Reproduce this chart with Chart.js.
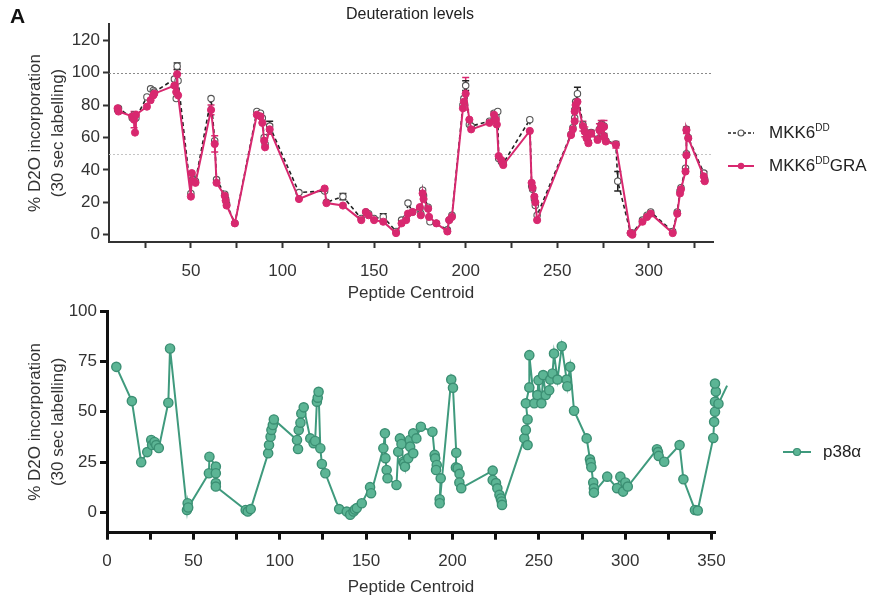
<!DOCTYPE html>
<html lang="en">
<head>
<meta charset="UTF-8">
<title>Deuteration levels</title>
<style>
  body { margin: 0; background: #fff; font-family: "Liberation Sans", Arial, sans-serif; color: #222; }
  #wrap { position: relative; width: 883px; height: 603px; overflow: hidden; background: #fff; }
  canvas { position: absolute; left: 0; }
  #topChart { top: 0; }
  #botChart { top: 295px; }
  .txt { position: absolute; white-space: nowrap; line-height: 1; }
  .panel { left: 10px; top: 5px; font-size: 21px; font-weight: bold; color: #111; }
  .title { left: 0; width: 820px; text-align: center; top: 6px; font-size: 16px; color: #222; }
  .leg { font-size: 17px; color: #222; display: flex; align-items: center; }
  .leg svg { margin-right: 15px; }
  .leg sup { font-size: 10px; vertical-align: 7px; line-height: 0; }
</style>
</head>
<body>
<div id="wrap">
  <canvas id="topChart" width="883" height="305"></canvas>
  <canvas id="botChart" width="883" height="308"></canvas>
  <div class="txt panel">A</div>
  <div class="txt title">Deuteration levels</div>
  <div class="txt leg" style="left:728px; top:124px;">
    <svg width="26" height="12"><line x1="0" y1="6" x2="26" y2="6" stroke="#222" stroke-width="1.5" stroke-dasharray="3,2"/><circle cx="13" cy="6" r="3" fill="#fff" stroke="#555" stroke-width="1.2"/></svg>
    <span>MKK6<sup>DD</sup></span>
  </div>
  <div class="txt leg" style="left:728px; top:157px;">
    <svg width="26" height="12"><line x1="0" y1="6" x2="26" y2="6" stroke="#d8286f" stroke-width="2"/><circle cx="13" cy="6" r="3.2" fill="#d8286f"/></svg>
    <span>MKK6<sup>DD</sup>GRA</span>
  </div>
  <div class="txt leg" style="left:783px; top:443px;">
    <svg width="28" height="12" style="margin-right:12px"><line x1="0" y1="6" x2="28" y2="6" stroke="#3f9a7d" stroke-width="2"/><circle cx="14" cy="6" r="3.5" fill="#5cb595" stroke="#3b8f73" stroke-width="1.2"/></svg>
    <span>p38α</span>
  </div>
</div>

<script src="https://cdn.jsdelivr.net/npm/chart.js"></script>
<script>
// [peptide centroid, % D2O, optional error]
const mkkDD = [
  [10,77],[10.5,78],[18,72],[19,74],[20,72],[26,85],[28,90],[29.5,89],[30,88],[41,96],
  [42,84],[42.5,104,2],[43,95],[50,25.5],[50.5,36],[51,34],[52.5,33],[61,84],[63,58],[64,34],
  [68.5,25],[69,22],[69.5,19],[74,7],[86,76],[88,75],[89,72],[90,60],[90.5,56],[93,67,3],
  [109,26],[123,27],[124,20],[133,23.5,2],[143,10],[145.5,14],[147,13],[150,10],[155,11,2],[162,2],
  [165,9],[167.5,10],[168.5,19.5],[171,14],[175,16],[175.5,13],[176.5,27.5],[177,24],[179.5,17],[180.5,8],
  [184,7],[190,3],[191,9],[192.5,12],[198.5,80],[199,84],[200,92,3],[202,68],[203,67],[213,70],
  [215.5,75],[216.5,73],[217.5,76],[218,47],[219.5,45],[220.5,44],[235,71],[236,30],[236.5,28],[237.5,22],
  [238,18],[239,12],[257.5,62],[258.5,66],[259.5,72],[259.5,77],[260,82],[261,87,4],[264,68],[265,64],
  [266,60],[267,57],[268.5,63],[272,59],[273,65],[274,68],[275.5,67],[275.5,61],[276.5,58],[282,56],
  [283,33,6],[290,1],[291,1],[296.5,9],[299,12],[301,14],[313,2],[315.5,14],[317,27],[317.5,29],
  [320,41],[320.5,50],[320.5,65],[321.5,60],[330,38],[330.5,34]
];
const mkkGRA = [
  [10,78],[10.5,76],[18,73],[19,71,5],[19.5,63],[20,74],[26,79],[28,83],[29.5,86],[30,87],
  [41,92],[42,88],[42.5,99,3],[43,86],[50,23.5],[50.5,38],[51,33],[52.5,32],[61,77,3],[63,56,5],
  [64,32],[68.5,24],[69,21],[69.5,18],[74,7],[86,74],[88,73],[89,69],[90,58],[90.5,54],
  [93,65,3],[109,22],[123,28.5],[124,19.5],[133,18],[143,9],[145.5,14],[147,12],[150,9],[155,8],
  [162,1],[165,7],[167.5,9],[168.5,13],[171,14],[175,17],[175.5,12],[176.5,25.5],[177,22],[179.5,16],
  [180,11],[184,7],[190,2],[191,9],[192.5,11],[198.5,78],[199,82],[200,87,10],[202,71],[203,65],
  [213,69],[215.5,74,2],[216.5,71],[217,68],[218,48.5],[219.5,46],[220.5,43],[235,64],[236,32],[236.5,29],
  [237.5,23.5],[238,20],[239,9],[257.5,61.5],[258.5,65],[259.5,70],[259.5,76],[260,80],[261,82],[264,67,3],
  [265,63.5,3],[266,59.5],[267,56.5],[268.5,62.5,2],[272,58.5],[273,64.5,4],[274,67.5,3],[275.5,66.5,4],[275.5,60.5],[276.5,57.5],
  [282,55.5,2],[290,1],[291,0],[296.5,8],[299,11],[301,13],[313,1],[315.5,13],[317,25.5],[317.5,28],
  [320,39],[320.5,49],[320.5,64.5,2],[321.5,59.5],[330,36,3],[330.5,33]
];
const p38a = [
  [5.4,72.3],[14.4,55.3],[19.8,25],[23.3,30],[25.6,36],[26.1,33.5],[27.5,35],[28.5,33.5],[30,32],[35.5,54.5],
  [36.5,81.4],[46.3,1.3],[46.7,4.6],[47,2.5],[59,19.5],[59.3,27.7],[63,22.8],[63,19.5],[63,14.6],[63,12.9],
  [80.3,1.3],[81.5,0.5],[83.2,1.7],[93.3,29.4],[93.8,33.5],[94.7,37.6],[95.2,41],[96,43.4],[96.6,46.2],[110,36],
  [110.6,31.5],[111,41],[112,44.6],[112.5,49.2],[113.9,52.2],[117.7,36.8],[119.6,34.4],[120.5,35.5],[121.5,55],[122,57],
  [122.5,59.9],[123.5,31.9],[124.4,24.1],[126.4,19.5],[134.4,1.7],[138.8,0.5],[140.8,-1.1],[142.7,0.5],[143.5,1.5],[144.6,2.2],
  [147.5,4.6],[152.3,12.6],[152.9,9.6],[160,31.9],[160.9,39.3],[161.2,27],[161.9,21.1],[162.4,17],[167.6,13.7],[168.6,30.2],
  [169.6,36.8],[170.5,34],[171.5,25.2],[172,24.4],[172.5,22.8],[174.4,26.9],[175.3,36],[175.5,32.7],[177.3,29.4],[177.3,39.3],
  [179.1,36.8],[181.7,42.6],[188.4,40.1],[189.7,28.6],[190,26.9],[190.9,23.6],[190.5,21.1],[193.2,17],[192.6,6.6],[192.6,4.6],
  [199.3,66],[200.3,61.9],[202.2,29.7],[202,22.4],[203,22],[204.1,19.2],[204,14.9],[205.1,12.1],[223.3,20.8],[223.3,16.2],
  [225.2,14.6],[226,12],[227.2,8.8],[228,7],[228.5,5.5],[228.7,3.8],[241.6,36.8],[242.5,41],[243.5,33.5],[243.5,46.2],
  [242.5,54.2],[244.5,62.1],[244.5,78.1],[247.4,54.2],[249.2,58.3],[249.8,65.7],[251.5,54.2],[252.5,68.2],[254,58.3],[256,60.7],
  [256.6,66],[257.9,69],[258.8,78.9],[260.8,66],[263.3,82.5],[266.1,66],[266.5,62.7],[268.1,72.3],[270.4,50.5],[277.7,36.8],
  [279.6,26.4],[280,24.8],[280.4,22.5],[281.5,14.9],[281.9,12],[281.9,9.9],[289.6,17.8],[295.3,12.1],[297.2,17.8],[298.8,10.4],
  [300.1,14.9],[301.5,12.9],[318.4,31.4],[319,30],[319.4,28.1],[322.6,25.2],[331.5,33.5],[333.7,16.5],[340.4,1.3],[342,1],
  [351,37],[351.5,45],[352,50],[352,55],[352.5,60],[352,64],[354,54],[359,63]
];

const topYTicks = [0, 20, 40, 60, 80, 100, 120];
const topXTicks = [25, 50, 75, 100, 125, 150, 175, 200, 225, 250, 275, 300, 325];
const botYTicks = [0, 25, 50, 75, 100];
const botXTicks = [0, 25, 50, 75, 100, 125, 150, 175, 200, 225, 250, 275, 300, 325, 350];
const refLines = [100, 50];

const FONT = '"Liberation Sans", Arial, sans-serif';
const yTitle = ['% D2O incorporation', '(30 sec labelling)'];
const toPts = a => a.map(p => ({ x: p[0], y: p[1], e: p[2] || 0 }));

const refLinePlugin = {
  id: 'refLines',
  beforeDatasetsDraw(chart, args, opts) {
    if (!opts.values) return;
    const { ctx, chartArea: a, scales: { y } } = chart;
    ctx.save();
    ctx.lineWidth = 1;
    ctx.setLineDash([2, 2]);
    opts.values.forEach((v, i) => {
      const py = Math.round(y.getPixelForValue(v)) + 0.5;
      ctx.strokeStyle = opts.colors[i];
      ctx.beginPath();
      ctx.moveTo(a.left, py);
      ctx.lineTo(a.right, py);
      ctx.stroke();
    });
    ctx.restore();
  }
};

const errPlugin = {
  id: 'errBars',
  beforeDatasetsDraw(chart) {
    const { ctx, scales: { y } } = chart;
    ctx.save();
    chart.data.datasets.forEach((ds, di) => {
      const meta = chart.getDatasetMeta(di);
      ctx.strokeStyle = ds.borderColor;
      ctx.lineWidth = 1.5;
      ds.data.forEach((d, i) => {
        if (!d.e) return;
        const px = meta.data[i].x;
        const t = y.getPixelForValue(d.y + d.e), b = y.getPixelForValue(d.y - d.e);
        ctx.beginPath();
        ctx.moveTo(px, t); ctx.lineTo(px, b);
        ctx.moveTo(px - 3.5, t); ctx.lineTo(px + 3.5, t);
        ctx.moveTo(px - 3.5, b); ctx.lineTo(px + 3.5, b);
        ctx.stroke();
      });
    });
    ctx.restore();
  }
};

function axis(opts) {
  return {
    type: 'linear',
    min: opts.min,
    max: opts.max,
    afterBuildTicks: s => { s.ticks = opts.ticks.map(v => ({ value: v })); },
    afterFit: s => { if (opts.width) s.width = opts.width; if (opts.height) s.height = opts.height; },
    border: { display: true, color: opts.color, width: opts.bw },
    grid: { drawOnChartArea: false, drawTicks: true, tickLength: opts.tl, tickColor: opts.color, tickWidth: opts.bw },
    ticks: {
      autoSkip: false, maxRotation: 0, color: '#333', padding: opts.pad,
      font: { size: 17, family: FONT },
      callback: opts.cb || (v => String(v))
    },
    title: {
      display: true, text: opts.title, color: '#333',
      font: { size: 17, family: FONT, lineHeight: 1.35 },
      padding: opts.tpad
    }
  };
}

const every50 = v => (v % 50 === 0 ? String(v) : '');

new Chart(document.getElementById('topChart'), {
  type: 'line',
  data: {
    datasets: [
      {
        label: 'MKK6DDGRA', data: toPts(mkkGRA),
        borderColor: '#d8286f', backgroundColor: '#d8286f',
        borderWidth: 2, pointRadius: 3.6, pointBorderWidth: 1,
        pointBackgroundColor: '#d8286f', pointBorderColor: '#d8286f', clip: false
      },
      {
        label: 'MKK6DD', data: toPts(mkkDD),
        borderColor: '#222', backgroundColor: '#fff',
        borderWidth: 1.6, borderDash: [4, 3], pointRadius: 3.2, pointBorderWidth: 1.1,
        pointBackgroundColor: '#fff', pointBorderColor: '#555', clip: false
      }
    ]
  },
  options: {
    responsive: false, animation: false, devicePixelRatio: 1,
    layout: { padding: { left: 23.5, right: 170, top: 24, bottom: 0 } },
    plugins: {
      legend: { display: false }, tooltip: { enabled: false },
      refLines: { values: refLines, colors: ['#8a8a8a', '#c4c4c4'] }
    },
    scales: {
      x: axis({ min: 5.3, max: 335, ticks: topXTicks, height: 63, color: '#333', bw: 2, tl: 6, pad: 13,
                cb: every50, title: 'Peptide Centroid', tpad: { top: 0, bottom: 0.5 } }),
      y: axis({ min: -4.5, max: 130, ticks: topYTicks, width: 85.5, color: '#333', bw: 2, tl: 6, pad: 3,
                title: yTitle, tpad: { top: 0, bottom: 0 } })
    }
  },
  plugins: [refLinePlugin, errPlugin]
});

new Chart(document.getElementById('botChart'), {
  type: 'line',
  data: {
    datasets: [{
      label: 'p38α', data: toPts(p38a),
      borderColor: '#3f9a7d', backgroundColor: '#5cb595',
      borderWidth: 2, pointRadius: 4.6, pointBorderWidth: 1.4,
      pointBackgroundColor: '#5cb595', pointBorderColor: '#3b8f73', clip: false
    }]
  },
  options: {
    responsive: false, animation: false, devicePixelRatio: 1,
    layout: { padding: { left: 23.5, right: 168, top: 16, bottom: 0 } },
    plugins: { legend: { display: false }, tooltip: { enabled: false } },
    scales: {
      x: axis({ min: 0, max: 352, ticks: botXTicks, height: 70.3, color: '#111', bw: 3, tl: 7, pad: 11,
                cb: every50, title: 'Peptide Centroid', tpad: { top: 0, bottom: 4.5 } }),
      y: axis({ min: -10, max: 100, ticks: botYTicks, width: 83.5, color: '#111', bw: 3, tl: 7, pad: 3,
                title: yTitle, tpad: { top: 0, bottom: 0 } })
    }
  }
});
</script>
</body>
</html>
